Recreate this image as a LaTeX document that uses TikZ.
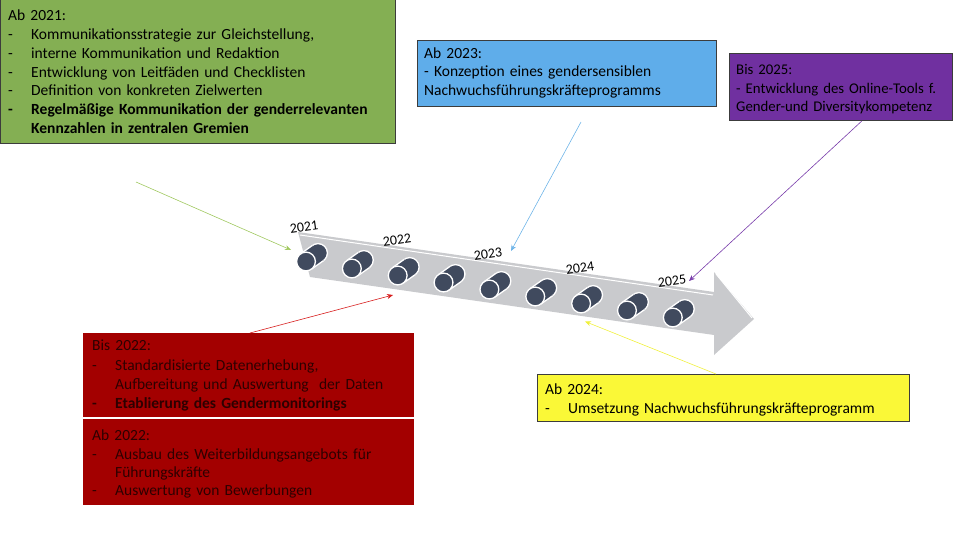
\documentclass[tikz,border=0pt]{standalone}
\usepackage{fontspec}
\setmainfont{Carlito}
\usetikzlibrary{arrows.meta,calc}
\definecolor{boxgreen}{RGB}{132,175,83}
\definecolor{boxblue}{RGB}{95,173,234}
\definecolor{boxpurple}{RGB}{112,48,160}
\definecolor{boxred}{RGB}{163,0,0}
\definecolor{boxyellow}{RGB}{250,248,55}
\definecolor{redtext}{RGB}{45,0,0}
\definecolor{arrowgray}{RGB}{201,202,205}
\definecolor{cyldark}{RGB}{64,74,94}
\definecolor{bordergray}{RGB}{60,60,60}
\definecolor{lgreen}{RGB}{160,200,95}
\definecolor{lblue}{RGB}{110,180,232}
\definecolor{lpurple}{RGB}{120,60,170}
\definecolor{lred}{RGB}{215,30,30}
\definecolor{lyellow}{RGB}{240,240,60}
\newcommand{\bul}{\makebox[23pt][l]{-}}
\newcommand{\cont}{\hspace*{23pt}}
\begin{document}
\begin{tikzpicture}[x=1pt,y=-1pt,
  panel/.style={rectangle, anchor=north west, inner sep=0pt, draw=bordergray, line width=0.8pt},
  txt/.style={anchor=base west, inner sep=0pt, align=left, text width=#1},
  yearlbl/.style={font=\fontsize{14}{16}\selectfont, rotate=8, inner sep=0pt},
  conn/.style={line width=0.6pt, -{Stealth[length=6pt,width=5pt]}},
  cylfill/.style={fill=cyldark},
  cyledge/.style={draw=white, line width=1.3pt}
]
\useasboundingbox (0,0) rectangle (960,540);

% ---------- timeline arrow ----------
\fill[arrowgray] (298,232) -- (714,292) -- (714,272) -- (754,319) -- (714,355) -- (714,335) -- (310,277) -- cycle;
\draw[white, line width=1pt] (300,235) -- (713,295);
\draw[white, line width=1pt] (716,274) -- (752,318);

% ---------- cylinders ----------
\foreach \i in {0,...,8} {
  \pgfmathsetmacro\cx{306+45.85*\i}
  \pgfmathsetmacro\cy{261.5+7*\i}
  \filldraw[cylfill, cyledge] (\cx+12,\cy-8.5) circle[radius=9.4pt];
  \fill[cylfill] (\cx+5.43,\cy+7.67) -- (\cx+17.43,\cy-0.83) -- (\cx+6.57,\cy-16.17) -- (\cx-5.43,\cy-7.67) -- cycle;
  \draw[cyledge] (\cx+5.43,\cy+7.67) -- (\cx+17.43,\cy-0.83);
  \draw[cyledge] (\cx-5.43,\cy-7.67) -- (\cx+6.57,\cy-16.17);
  \filldraw[cylfill, cyledge] (\cx,\cy) circle[radius=9.4pt];
}

% ---------- year labels ----------
\node[yearlbl] (y2021) at (304,227) {2021};
\node[yearlbl] (y2022) at (397,240) {2022};
\node[yearlbl] (y2023) at (488,254) {2023};
\node[yearlbl] (y2024) at (580,268) {2024};
\node[yearlbl] (y2025) at (672,281) {2025};

% ---------- boxes ----------
\node[panel, fill=boxgreen, minimum width=395pt, minimum height=144pt] (g21) at (0,-1) {};
\node[txt=385pt, font=\fontsize{15.5}{18.8}\selectfont] (g21t) at (8,20.7) {%
Ab 2021:\\
\bul Kommunikationsstrategie zur Gleichstellung,\\
\bul interne Kommunikation und Redaktion\\
\bul Entwicklung von Leitfäden und Checklisten\\
\bul Definition von konkreten Zielwerten\\
\textbf{\bul Regelmäßige Kommunikation der genderrelevanten}\\
\textbf{\cont Kennzahlen in zentralen Gremien}};

\node[panel, fill=boxblue, minimum width=299pt, minimum height=66pt] (b23) at (417,40) {};
\node[txt=290pt, font=\fontsize{15.5}{18.4}\selectfont] (b23t) at (424,58.3) {%
Ab 2023:\\
- Konzeption eines gendersensiblen\\
Nachwuchsführungskräfteprogramms};

\node[panel, fill=boxpurple, minimum width=223pt, minimum height=67pt] (p25) at (729,53) {};
\node[txt=260pt, font=\fontsize{14.8}{18.3}\selectfont] (p25t) at (736,75) {%
Bis 2025:\\
\mbox{- Entwicklung des Online-Tools f.}\\
Gender-und Diversitykompetenz};

\node[panel, draw=none, fill=boxred, minimum width=331pt, minimum height=84pt] (r22) at (83,333) {};
\node[txt=320pt, font=\fontsize{15.5}{19.4}\selectfont, text=redtext] (r22t) at (92,350.7) {%
Bis 2022:\\
\bul Standardisierte Datenerhebung,\\
\cont Aufbereitung und Auswertung\ \ der Daten\\
\textbf{\bul Etablierung des Gendermonitorings}};

\node[panel, draw=none, fill=boxred, minimum width=331pt, minimum height=86pt] (a22) at (83,419) {};
\node[txt=320pt, font=\fontsize{15.5}{18.3}\selectfont, text=redtext] (a22t) at (92,440.7) {%
Ab 2022:\\
\bul Ausbau des Weiterbildungsangebots für\\
\cont Führungskräfte\\
\bul Auswertung von Bewerbungen};

\node[panel, fill=boxyellow, minimum width=372pt, minimum height=47pt] (y24) at (537,374) {};
\node[txt=360pt, font=\fontsize{15.5}{19.3}\selectfont] (y24t) at (545,394) {%
Ab 2024:\\
\bul Umsetzung Nachwuchsführungskräfteprogramm};

% ---------- connectors ----------
\coordinate (gstart) at (136,182);
\coordinate (gend) at (291,250);
\coordinate (bstart) at (581,122);
\coordinate (bend) at (511,251);
\coordinate (pend) at (689,281);
\coordinate (rend) at (393,295);
\coordinate (yend) at (585,321.5);

\draw[conn, draw=lgreen, -{Stealth[length=6pt,width=5pt,fill=lgreen]}] (gstart) -- (gend);
\draw[conn, draw=lblue] (bstart) -- (bend);
\draw[conn, draw=lpurple] ([xshift=133pt]p25.south west) -- (pend);
\draw[conn, draw=lred] ([xshift=167pt]r22.north west) -- (rend);
\draw[conn, draw=lyellow] ([xshift=179pt]y24.north west) -- (yend);
\end{tikzpicture}
\end{document}
